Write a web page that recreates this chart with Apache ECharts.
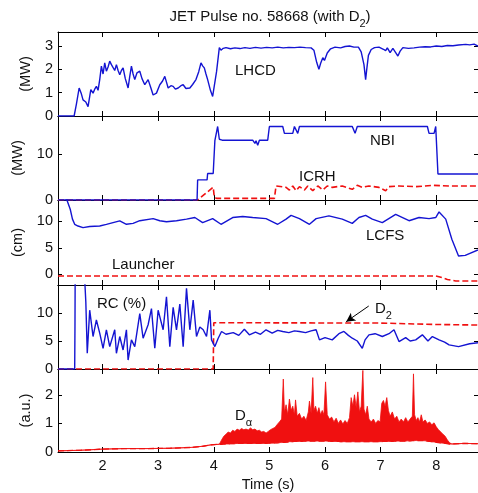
<!DOCTYPE html>
<html><head><meta charset="utf-8">
<script src="https://cdn.jsdelivr.net/npm/echarts@6/dist/echarts.min.js"></script>
<style>html,body{margin:0;padding:0;background:#fff}#c{width:478px;height:493px}</style>
</head><body><div id="c"></div>
<script>
// ---- data (time in s) ----
const xTicks = [2, 3, 4, 5, 6, 7, 8];
const yTicksLHCD = [0, 1, 2, 3];
const yTicksMW = [0, 10];
const yTicksCm = [0, 5, 10];
const yTicksRC = [0, 5, 10];
const yTicksDa = [0, 1, 2];

const lhcd = [[1.2,0],[1.49,0],[1.53,0.5],[1.58,1.2],[1.62,0.95],[1.65,0.69],[1.70,0.6],[1.74,0.4],[1.79,1.13],[1.83,0.98],[1.86,1.15],[1.89,1.27],[1.92,1.1],[1.95,1.56],[1.98,2.14],[2.01,1.8],[2.04,2.28],[2.07,1.92],[2.10,2.1],[2.13,2.35],[2.16,2.2],[2.19,2.14],[2.22,1.95],[2.25,2.2],[2.28,1.95],[2.31,1.77],[2.34,1.95],[2.37,2.06],[2.41,1.6],[2.46,1.2],[2.49,1.7],[2.52,2.14],[2.55,1.8],[2.58,1.56],[2.62,1.85],[2.67,1.92],[2.71,1.6],[2.76,1.34],[2.82,1.56],[2.87,1.2],[2.91,0.9],[2.97,0.98],[3.03,1.34],[3.08,1.5],[3.12,1.7],[3.15,1.45],[3.18,1.2],[3.23,1.3],[3.27,1.27],[3.31,1.15],[3.36,1.2],[3.41,1.3],[3.45,1.34],[3.50,1.18],[3.57,1.2],[3.62,1.35],[3.68,1.56],[3.73,1.9],[3.77,2.28],[3.80,2.15],[3.83,2.06],[3.86,1.8],[3.89,1.56],[3.94,1.1],[3.98,0.84],[4.01,0.91],[4.05,1.9],[4.10,2.93],[4.13,2.82],[4.17,2.90],[4.22,2.93],[4.30,2.88],[4.38,2.92],[4.47,2.89],[4.56,2.93],[4.65,2.90],[4.75,2.94],[4.85,2.91],[4.95,2.94],[5.05,2.92],[5.15,2.95],[5.25,2.92],[5.35,2.94],[5.45,2.93],[5.55,2.95],[5.65,2.93],[5.75,2.92],[5.80,2.82],[5.85,2.30],[5.89,2.0],[5.92,2.25],[5.96,2.50],[5.99,2.38],[6.04,2.70],[6.10,2.88],[6.18,2.95],[6.28,2.92],[6.36,2.98],[6.44,3.0],[6.52,2.95],[6.60,2.95],[6.65,2.75],[6.70,2.2],[6.73,1.56],[6.75,2.0],[6.78,2.6],[6.83,2.85],[6.89,2.93],[6.97,2.95],[7.05,2.86],[7.09,2.80],[7.12,2.92],[7.17,2.72],[7.22,2.90],[7.27,2.72],[7.31,2.57],[7.35,2.78],[7.40,2.93],[7.50,2.90],[7.60,2.92],[7.70,2.95],[7.80,2.97],[7.90,2.96],[8.00,3.0],[8.10,2.98],[8.20,3.02],[8.30,3.01],[8.40,3.04],[8.53,3.07],[8.60,3.05],[8.68,3.08],[8.75,3.0]];

const nbi = [[1.2,0],[3.70,0],[3.71,4.4],[3.88,4.4],[3.89,5.8],[3.99,5.8],[4.02,13],[4.07,16.1],[4.10,13.3],[4.15,13.1],[4.70,13.1],[4.74,12.4],[4.76,13],[4.79,12.0],[4.82,13.1],[4.97,13.1],[5.00,16.1],[5.24,16.1],[5.27,14.6],[5.42,14.6],[5.45,16.1],[5.48,16.0],[5.51,14.6],[5.54,16.1],[6.49,16.1],[6.54,14.6],[6.58,16.1],[7.84,16.1],[7.87,14.6],[7.96,14.6],[7.99,16.1],[8.03,5.7],[8.28,5.7],[8.31,6.0],[8.35,5.7],[8.75,5.7]];

const icrh = [[1.2,0],[3.71,0],[3.99,2.8],[4.01,0.6],[4.05,0.35],[5.09,0.35],[5.12,3.07],[5.30,2.77],[5.36,2.19],[5.42,3.07],[5.48,2.04],[5.54,2.92],[5.63,2.19],[5.69,3.07],[5.78,2.04],[5.87,3.07],[5.96,2.19],[6.04,3.07],[6.13,2.77],[6.31,3.07],[6.49,2.34],[6.58,3.21],[6.67,2.77],[6.79,3.07],[6.97,2.77],[7.09,2.04],[7.15,2.92],[7.33,3.07],[7.63,2.92],[7.93,3.21],[8.23,3.07],[8.75,3.07]];

const lcfs = [[1.2,16],[1.36,14.0],[1.42,12.26],[1.46,10.4],[1.50,9.43],[1.56,9.1],[1.65,8.8],[1.77,9.0],[1.95,9.1],[2.07,9.4],[2.19,9.75],[2.31,10.06],[2.43,9.43],[2.55,9.6],[2.67,10.1],[2.91,10.5],[3.03,10.1],[3.15,9.9],[3.33,10.1],[3.51,10.4],[3.66,10.7],[3.80,9.75],[3.98,10.5],[4.13,9.43],[4.34,10.7],[4.52,10.9],[4.70,10.7],[4.94,10.5],[5.15,9.43],[5.30,10.4],[5.39,11.1],[5.54,10.5],[5.72,9.43],[5.84,10.5],[6.07,11.0],[6.31,10.4],[6.49,9.6],[6.61,10.7],[6.73,11.1],[6.85,10.4],[7.03,9.75],[7.27,11.3],[7.51,10.1],[7.69,10.7],[7.87,10.5],[7.99,10.7],[8.05,11.76],[8.17,10.4],[8.28,6.6],[8.40,3.46],[8.52,3.58],[8.75,4.6]];

const launcher = [[1.2,-0.3],[7.99,-0.3],[8.10,-0.6],[8.20,-0.95],[8.35,-1.25],[8.75,-1.25]];

const rc = [[1.2,0],[1.50,0],[1.505,7.5],[1.51,20],[1.66,20],[1.70,12],[1.726,2.8],[1.77,10.5],[1.83,5.8],[1.89,8.75],[1.95,6.4],[2.01,3.7],[2.07,7],[2.13,4],[2.22,7],[2.25,2.8],[2.31,5.8],[2.37,3.4],[2.43,7],[2.46,1.6],[2.52,5.2],[2.58,4],[2.67,9.9],[2.73,5.5],[2.82,7.9],[2.88,10.8],[2.94,3.7],[3.0,10.5],[3.09,7],[3.15,12.9],[3.21,4],[3.27,11],[3.33,7],[3.39,11.6],[3.45,4],[3.51,14.4],[3.57,7],[3.63,12.3],[3.69,5.8],[3.75,7.5],[3.81,7],[3.87,5.8],[3.93,10.5],[3.96,5.2],[4.02,4],[4.08,5.5],[4.14,6.7],[4.22,6.2],[4.35,6.5],[4.45,6.0],[4.55,7.1],[4.64,6.1],[4.75,6.6],[4.84,6.2],[4.94,7],[5.05,6.4],[5.15,6.9],[5.24,6.7],[5.35,6.5],[5.45,6.8],[5.54,6.7],[5.65,6.5],[5.75,6.8],[5.84,7],[5.90,5.2],[6.00,5.6],[6.13,5.2],[6.25,6.3],[6.34,6.7],[6.42,6.0],[6.49,5.5],[6.58,5.0],[6.67,3.7],[6.72,5.2],[6.79,6.1],[6.90,6.3],[7.03,5.8],[7.15,6.3],[7.24,7],[7.33,4.9],[7.45,5.6],[7.53,5.0],[7.63,5.2],[7.75,6.1],[7.85,5.0],[7.93,5.8],[8.05,5.2],[8.15,4.8],[8.23,4.3],[8.40,4.0],[8.60,4.5],[8.75,4.7]];

const d2 = [[1.2,0],[3.99,0],[4.0,8.27],[7.0,8.2],[8.0,7.95],[8.75,7.85]];

// D-alpha: [time, lower envelope, upper envelope]
const dAlpha = [[1.2,0.04,0.04],[1.6,0.06,0.06],[2.0,0.10,0.10],[2.4,0.12,0.12],[2.8,0.12,0.12],[3.2,0.13,0.13],[3.6,0.16,0.16],[3.8,0.20,0.20],[3.95,0.25,0.25],[4.10,0.27,0.27],
[4.14,0.27,0.42],[4.18,0.28,0.55],[4.22,0.28,0.62],[4.26,0.28,0.70],[4.30,0.29,0.66],[4.34,0.29,0.76],[4.38,0.29,0.72],[4.42,0.30,0.80],[4.46,0.30,0.76],[4.50,0.30,0.82],[4.54,0.30,0.78],[4.58,0.30,0.80],[4.62,0.30,0.77],[4.66,0.30,0.84],[4.70,0.30,0.78],[4.74,0.30,0.80],[4.78,0.30,0.74],[4.82,0.30,0.76],[4.86,0.30,0.70],[4.90,0.30,0.72],[4.94,0.30,0.66],[4.98,0.31,0.72],[5.02,0.31,0.78],[5.06,0.31,0.82],[5.10,0.32,0.86],[5.14,0.32,0.96],[5.18,0.33,1.05],[5.22,0.33,1.15],[5.25,0.34,2.55],[5.27,0.34,1.40],[5.30,0.35,1.65],[5.33,0.35,1.30],[5.36,0.36,1.85],[5.39,0.36,1.45],[5.42,0.36,1.60],[5.45,0.37,1.30],[5.47,0.37,1.82],[5.50,0.37,1.25],[5.54,0.37,1.35],[5.58,0.37,1.15],[5.62,0.38,1.25],[5.66,0.38,1.10],[5.70,0.38,1.40],[5.72,0.38,1.78],[5.75,0.38,1.35],[5.78,0.38,2.60],[5.80,0.38,1.45],[5.83,0.38,1.60],[5.86,0.38,1.35],[5.89,0.38,1.55],[5.92,0.38,1.30],[5.95,0.38,1.45],[5.98,0.38,1.30],[6.01,0.38,2.45],[6.04,0.38,1.30],[6.08,0.38,1.15],[6.12,0.37,1.22],[6.16,0.37,1.05],[6.20,0.37,1.18],[6.24,0.37,1.00],[6.28,0.36,1.12],[6.32,0.36,0.98],[6.36,0.36,1.10],[6.40,0.36,1.00],[6.44,0.36,1.20],[6.47,0.36,1.90],[6.50,0.36,1.60],[6.53,0.36,2.00],[6.56,0.36,1.55],[6.59,0.36,2.10],[6.62,0.36,1.40],[6.65,0.36,1.60],[6.68,0.36,2.85],[6.70,0.36,1.50],[6.73,0.36,1.30],[6.76,0.36,1.60],[6.79,0.36,1.15],[6.83,0.36,1.05],[6.87,0.36,1.15],[6.91,0.36,1.00],[6.95,0.36,1.10],[6.99,0.36,1.05],[7.02,0.37,1.70],[7.05,0.37,1.80],[7.08,0.37,1.60],[7.11,0.37,1.90],[7.14,0.37,1.45],[7.17,0.37,1.25],[7.21,0.37,1.40],[7.25,0.38,1.15],[7.29,0.38,1.25],[7.33,0.38,1.05],[7.37,0.38,1.15],[7.41,0.38,1.05],[7.45,0.38,1.20],[7.49,0.39,1.05],[7.53,0.39,1.15],[7.57,0.40,1.25],[7.59,0.40,2.73],[7.61,0.40,1.30],[7.64,0.40,1.10],[7.67,0.40,1.20],[7.70,0.40,1.05],[7.73,0.40,1.30],[7.76,0.40,1.05],[7.80,0.39,1.12],[7.84,0.38,1.00],[7.88,0.37,1.05],[7.92,0.36,0.95],[7.96,0.35,1.02],[8.00,0.34,0.88],[8.04,0.33,0.78],[8.08,0.32,0.70],[8.12,0.31,0.62],[8.16,0.30,0.55],[8.20,0.29,0.42],[8.24,0.28,0.32],[8.28,0.28,0.28],[8.5,0.30,0.30],[8.75,0.29,0.29]];

// D2 annotation arrow (data coords of panel 4): from, to
const d2Arrow = [[6.786, 11.25], [6.38, 8.45]];

// ---- layout ----
const FONT = '"Liberation Sans", Arial, Helvetica, sans-serif';
const BLUE = '#1414d2';
const RED = '#f01010';
const panels = [
  {top: 32, height: 84, min: 0, max: 3.6, ticks: yTicksLHCD, name: '(MW)'},
  {top: 116, height: 84, min: 0, max: 18.4, ticks: yTicksMW, name: '(MW)'},
  {top: 200, height: 85, min: -2, max: 14, ticks: yTicksCm, name: '(cm)'},
  {top: 285, height: 84, min: 0, max: 15, ticks: yTicksRC, name: ''},
  {top: 369, height: 84, min: 0, max: 2.9, ticks: yTicksDa, name: '(a.u.)'}
];
const grid = [], xAxis = [], yAxis = [];
const lineC = {color: '#000', width: 1};
panels.forEach((p, i) => {
  grid.push({left: 58, width: 421, top: p.top, height: p.height, containLabel: false});
  ['bottom', 'top'].forEach(pos => {
    xAxis.push({
      type: 'value', gridIndex: i, min: 1.2, max: 8.75, position: pos,
      axisLine: {show: true, onZero: false, lineStyle: lineC},
      axisTick: {show: true, inside: true, length: 5, customValues: xTicks, lineStyle: lineC},
      axisLabel: {show: i === 4 && pos === 'bottom', customValues: xTicks, margin: 6,
        fontFamily: FONT, fontSize: 14.5, color: '#111'},
      splitLine: {show: false},
      name: (i === 4 && pos === 'bottom') ? 'Time (s)' : '',
      nameLocation: 'middle', nameGap: 25,
      nameTextStyle: {fontFamily: FONT, fontSize: 14.5, color: '#111'}
    });
  });
  ['left', 'right'].forEach(pos => {
    yAxis.push({
      type: 'value', gridIndex: i, min: p.min, max: p.max, position: pos,
      axisLine: {show: true, onZero: false, lineStyle: lineC},
      axisTick: {show: true, inside: true, length: 4, customValues: p.ticks, lineStyle: lineC},
      axisLabel: {show: pos === 'left', customValues: p.ticks, margin: 5,
        fontFamily: FONT, fontSize: 14.5, color: '#111'},
      splitLine: {show: false},
      name: pos === 'left' ? p.name : '',
      nameLocation: 'middle', nameGap: 25,
      nameTextStyle: {fontFamily: FONT, fontSize: 14.5, color: '#111'}
    });
  });
});

function line(data, i, color, dashed, extra) {
  return Object.assign({
    type: 'line', data: data, xAxisIndex: 2 * i, yAxisIndex: 2 * i,
    showSymbol: false, symbol: 'none', clip: true, animation: false,
    lineStyle: {color: color, width: dashed ? 1.6 : 1.4, type: dashed ? [6, 3] : 'solid'},
    itemStyle: {color: color}
  }, extra || {});
}

// D-alpha band as a filled polygon between the envelopes, placed with the axes' scales
const dAlphaBand = {
  type: 'custom', xAxisIndex: 8, yAxisIndex: 8, animation: false, silent: true, clip: true,
  data: [[dAlpha[0][0], dAlpha[0][1]]],
  encode: {x: 0, y: 1},
  renderItem: function (params, api) {
    const top = dAlpha.map(d => api.coord([d[0], d[2]]));
    const bot = dAlpha.slice().reverse().map(d => api.coord([d[0], d[1]]));
    return {type: 'polygon', shape: {points: top.concat(bot)},
      style: {fill: RED, stroke: RED, lineWidth: 0.8}};
  }
};

const series = [
  line(lhcd, 0, BLUE, false),
  line(icrh, 1, RED, true),
  line(nbi, 1, BLUE, false),
  line(launcher, 2, RED, true),
  line(lcfs, 2, BLUE, false),
  line(d2, 3, RED, true, {
    markLine: {
      silent: true, animation: false, symbol: ['none', 'arrow'], symbolSize: [7, 9],
      label: {show: false},
      lineStyle: {color: '#000', width: 1, type: 'solid'},
      data: [[{coord: d2Arrow[0]}, {coord: d2Arrow[1]}]]
    }
  }),
  line(rc, 3, BLUE, false),
  line(dAlpha.map(d => [d[0], d[1]]), 4, RED, true, {lineStyle: {color: RED, width: 1.3, type: [6, 3]}}),
  dAlphaBand
];

function txt(text, x, y, rich, align) {
  return {type: 'text', x: x, y: y, silent: true, z: 100,
    style: {text: text, fill: '#111', font: '15px ' + FONT, align: align || 'left', verticalAlign: 'middle', rich: rich}};
}
const subRich = {m: {fontSize: 15, fontFamily: FONT, color: '#111', lineHeight: 24, verticalAlign: 'middle'},
                 s: {fontSize: 11, fontFamily: FONT, color: '#111', lineHeight: 24, verticalAlign: 'bottom'}};

const graphic = [
  txt('{m|JET Pulse no. 58668 (with D}{s|2}{m|)}', 270, 17, subRich, 'center'),
  txt('LHCD', 235, 71),
  txt('NBI', 370, 141),
  txt('ICRH', 299, 177),
  txt('LCFS', 366, 236),
  txt('Launcher', 112, 265),
  txt('RC (%)', 97, 304),
  txt('{m|D}{s|2}', 375, 309, subRich),
  txt('{m|D}{s|α}', 235, 416, subRich)
];

const chart = echarts.init(document.getElementById('c'), null, {renderer: 'canvas'});
chart.setOption({animation: false, backgroundColor: '#fff', grid, xAxis, yAxis, series, graphic});
</script></body></html>
